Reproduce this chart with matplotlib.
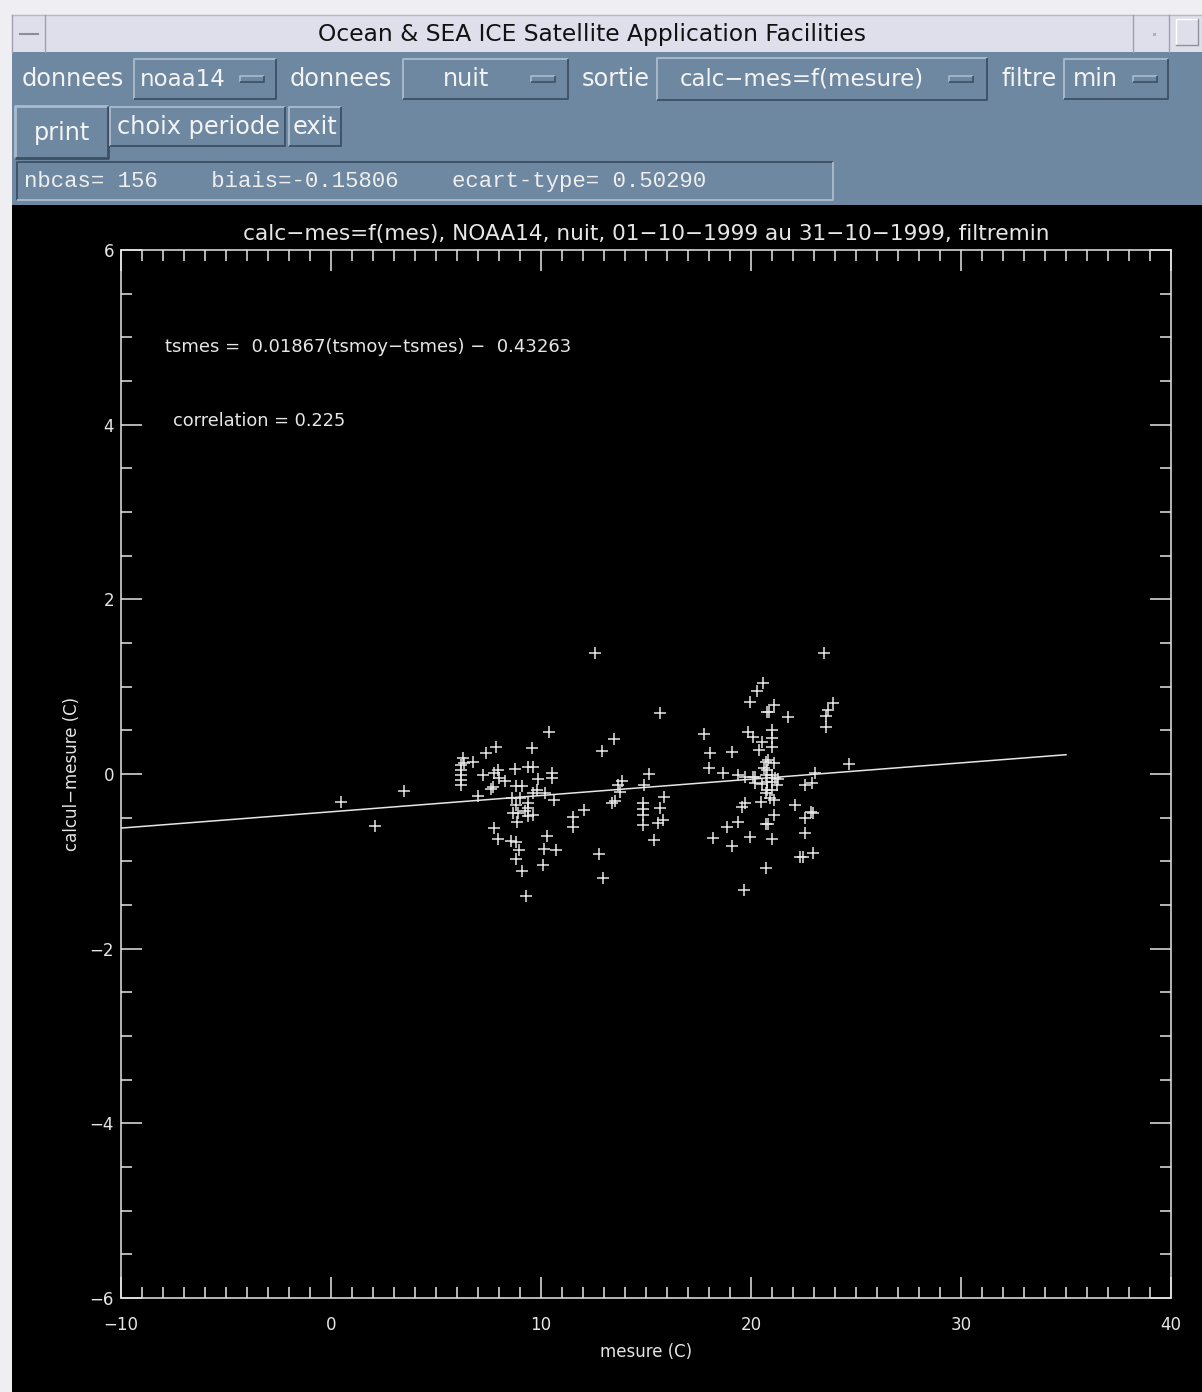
import matplotlib.pyplot as plt
import numpy as np
from matplotlib.patches import Rectangle

# ---- data: mesure (C) vs calcul-mesure (C), 156 cases ----
mesure = [0.48, 2.10, 3.48,
          6.29, 6.19, 6.19, 6.19, 6.19, 6.19, 6.33, 6.76, 7.38, 7.86, 7.24, 7.76, 8.00, 8.29, 7.62, 7.71, 7.00,
          8.76, 9.38, 9.62, 9.57, 10.38, 9.86, 10.52, 10.52, 8.81, 9.10, 9.81, 10.19, 9.62, 10.62, 8.62, 9.00,
          9.38, 9.38, 8.90, 8.67, 9.38, 9.62, 8.86, 7.76, 7.95, 8.57, 8.81, 8.95, 8.81, 9.10, 9.29, 10.29, 10.14, 10.71, 10.10,
          11.52, 11.52, 12.05, 12.57, 12.76, 12.95, 12.90, 13.48, 13.67, 13.76, 13.38, 13.52,
          15.67, 15.14, 14.90, 15.86, 15.67, 15.81, 15.57, 15.38, 14.86, 14.86, 14.86, 14.86,
          20.57, 20.29, 19.95, 20.76, 17.76, 19.86, 20.10, 20.52, 20.38, 18.05, 19.10, 18.00, 18.67, 19.38, 19.71, 20.10,
          20.19, 20.62, 20.71, 20.71, 20.71, 20.48, 19.71, 19.57, 19.38, 18.86, 20.71, 19.95, 18.19, 19.10, 20.71, 19.67,
          23.48, 21.10, 20.86, 21.76, 23.90, 23.67, 23.57, 23.57, 21.00, 21.00, 21.00, 20.81, 21.10, 24.67, 23.05, 21.00,
          21.00, 21.24, 22.90, 22.57, 21.10, 22.10, 22.95, 22.86, 22.57, 21.10, 20.81, 21.00, 22.57, 22.95, 22.33, 22.48,
          20.76, 21.14, 21.29, 20.76, 21.00, 20.90, 13.86, 9.24, 7.95, 20.19, 20.76, 20.52, 8.81]
calc_mes = [-0.32, -0.60, -0.19,
            0.18, 0.10, 0.05, -0.01, -0.07, -0.13, 0.13, 0.14, 0.24, 0.31, -0.01, 0.01, -0.05, -0.08, -0.17, -0.15, -0.25,
            0.06, 0.08, 0.08, 0.30, 0.48, -0.06, 0.01, -0.05, -0.14, -0.14, -0.18, -0.22, -0.22, -0.30, -0.27, -0.27,
            -0.33, -0.39, -0.45, -0.45, -0.48, -0.47, -0.55, -0.62, -0.74, -0.77, -0.78, -0.87, -0.97, -1.11, -1.40, -0.71, -0.86, -0.87, -1.04,
            -0.49, -0.61, -0.41, 1.39, -0.92, -1.19, 0.26, 0.40, -0.13, -0.21, -0.33, -0.31,
            0.70, 0.00, -0.13, -0.26, -0.39, -0.53, -0.56, -0.76, -0.33, -0.40, -0.47, -0.58,
            1.04, 0.95, 0.82, 0.71, 0.46, 0.48, 0.42, 0.37, 0.27, 0.24, 0.25, 0.07, 0.01, -0.01, -0.03, -0.03,
            -0.10, 0.07, 0.14, -0.01, -0.22, -0.32, -0.33, -0.38, -0.55, -0.61, -0.57, -0.72, -0.73, -0.82, -1.08, -1.33,
            1.39, 0.79, 0.71, 0.65, 0.81, 0.73, 0.66, 0.54, 0.50, 0.41, 0.31, 0.16, 0.13, 0.11, 0.01, -0.01,
            -0.09, -0.13, -0.10, -0.13, -0.30, -0.36, -0.45, -0.44, -0.50, -0.47, -0.57, -0.74, -0.68, -0.90, -0.95, -0.95,
            0.05, -0.05, -0.06, -0.18, -0.18, -0.27, -0.08, -0.42, 0.05, -0.03, -0.09, -0.12, -0.36]

# regression tsmes = a*x + b
slope = 0.01867
offset = -0.43263
fit_x = np.array([-10, 35])
fit_y = slope * fit_x + offset
correlation = 0.225

nbcas = 156
biais = -0.15806
ecart_type = 0.50290

plot_title = "calc\u2212mes=f(mes), NOAA14, nuit, 01\u221210\u22121999 au 31\u221210\u22121999, filtremin"

W, H = 1202, 1392
PANEL = '#6f88a1'
LIGHT = '#aabbcd'
DARK = '#3c5064'
FG = '#f4f4f4'
PEN = '#e6e6e6'

fig = plt.figure(figsize=(W / 100, H / 100), dpi=100, facecolor='#eeeef3')

# widget layer in pixel units
gui = fig.add_axes([0, 0, 1, 1])
gui.set_xlim(0, W)
gui.set_ylim(H, 0)
gui.axis('off')


def box(x0, y0, x1, y1, raised=True, lw=1.3, fc=PANEL):
    gui.add_patch(Rectangle((x0, y0), x1 - x0, y1 - y0, fc=fc, ec='none'))
    tl, br = (LIGHT, DARK) if raised else (DARK, LIGHT)
    gui.plot([x0, x0, x1], [y1, y0, y0], color=tl, lw=lw, solid_capstyle='butt')
    gui.plot([x0, x1, x1], [y1, y1, y0], color=br, lw=lw, solid_capstyle='butt')


def knob(xc, yc):
    box(xc - 12, yc - 3, xc + 12, yc + 3, lw=1.2)


def label(x, y, s, ha='left', size=17.3, **kw):
    gui.text(x, y, s, ha=ha, va='center', fontsize=size, color=FG,
             family='DejaVu Sans', **kw)


# window title bar
gui.add_patch(Rectangle((12, 15), W - 12, 37, fc='#dfdfec', ec='none'))
gui.plot([12, W], [15, 15], color='#b8b8c8', lw=1)
gui.plot([12, 12], [15, 52], color='#a0a0b0', lw=1)
gui.plot([45, 45], [15, 52], color='#a0a0b0', lw=1)
gui.plot([20, 38], [34, 34], color='#8c8c9c', lw=1.5)
gui.plot([1133, 1133], [15, 52], color='#a0a0b0', lw=1)
gui.plot([1169, 1169], [15, 52], color='#a0a0b0', lw=1)
gui.add_patch(Rectangle((1153, 33), 3, 3, fc='#b0b0c0', ec='none'))
gui.plot([1176, 1176, 1198], [45, 19, 19], color='white', lw=1)
gui.plot([1176, 1198, 1198], [45, 45, 19], color='#9090a0', lw=1)
gui.text(592, 34, "Ocean & SEA ICE Satellite Application Facilities", ha='center',
         va='center', fontsize=16.8, color='#111111', family='DejaVu Sans')

# control panel
gui.add_patch(Rectangle((12, 52), W - 12, 154, fc=PANEL, ec='none'))

label(22, 79, "donnees")
box(134, 59, 276, 99)
label(140, 79, "noaa14", size=16.5)
knob(252, 79)

label(290, 79, "donnees")
box(403, 59, 568, 99)
label(466, 79, "nuit", ha='center')
knob(543, 79)

label(582, 79, "sortie")
box(657, 58, 987, 100)
label(680, 79, "calc\u2212mes=f(mesure)", size=16.5)
knob(961, 79)

label(1001, 79, "filtre")
box(1064, 59, 1168, 99)
label(1073, 79, "min")
knob(1145, 79)

box(15, 106, 108, 158, lw=2)
label(62, 133, "print", ha='center')
box(110, 107, 285, 146)
label(198, 127, "choix periode", ha='center')
box(289, 107, 341, 146)
label(315, 127, "exit", ha='center')

box(17, 162, 833, 200, raised=False)
gui.text(24, 181,
         f"nbcas= {nbcas}    biais={biais:.5f}    ecart-type= {ecart_type:.5f}",
         ha='left', va='center', fontsize=16.1, color='#eeeeee', family='Liberation Mono')

# plotting window
gui.add_patch(Rectangle((12, 205), W - 12, H - 205, fc='black', ec='none'))

ax = fig.add_axes([121 / W, (H - 1298) / H, 1050 / W, 1048 / H])
ax.set_facecolor('black')
ax.plot(mesure, calc_mes, '+', color=PEN, ms=9, mew=1.1)
ax.plot(fit_x, fit_y, color=PEN, lw=1.1)

ax.set_xlim(-10, 40)
ax.set_ylim(-6, 6)
ax.set_xticks(np.arange(-10, 41, 10))
ax.set_xticks(np.arange(-10, 41, 1), minor=True)
ax.set_yticks(np.arange(-6, 7, 2))
ax.set_yticks(np.arange(-6, 6.01, 0.5), minor=True)
for s in ax.spines.values():
    s.set_color(PEN)
    s.set_linewidth(1.1)
ax.tick_params(which='both', direction='in', top=True, right=True,
               colors=PEN, width=1.1, labelsize=12, labelcolor=PEN)
ax.tick_params(which='major', length=15)
ax.tick_params(which='minor', length=8)
ax.tick_params(axis='x', pad=13)
ax.tick_params(axis='y', pad=5)

ax.set_xlabel("mesure (C)", color=PEN, fontsize=12, va='center')
ax.xaxis.set_label_coords(0.5, -0.0515)
ax.set_ylabel("calcul\u2212mesure (C)", color=PEN, fontsize=12, va='center')
ax.yaxis.set_label_coords(-0.047, 0.5)

ax.text(0.5, 1.015, plot_title, transform=ax.transAxes, ha='center', va='center',
        fontsize=15.6, color=PEN)
ax.text(0.042, 0.9075, f"tsmes =  {slope:.5f}(tsmoy\u2212tsmes) \u2212  {-offset:.5f}",
        transform=ax.transAxes, ha='left', va='center', fontsize=13, color=PEN)
ax.text(0.0495, 0.837, f"correlation = {correlation:.3f}",
        transform=ax.transAxes, ha='left', va='center', fontsize=12.8, color=PEN)

fig.savefig("out.png", dpi=100, facecolor=fig.get_facecolor())
